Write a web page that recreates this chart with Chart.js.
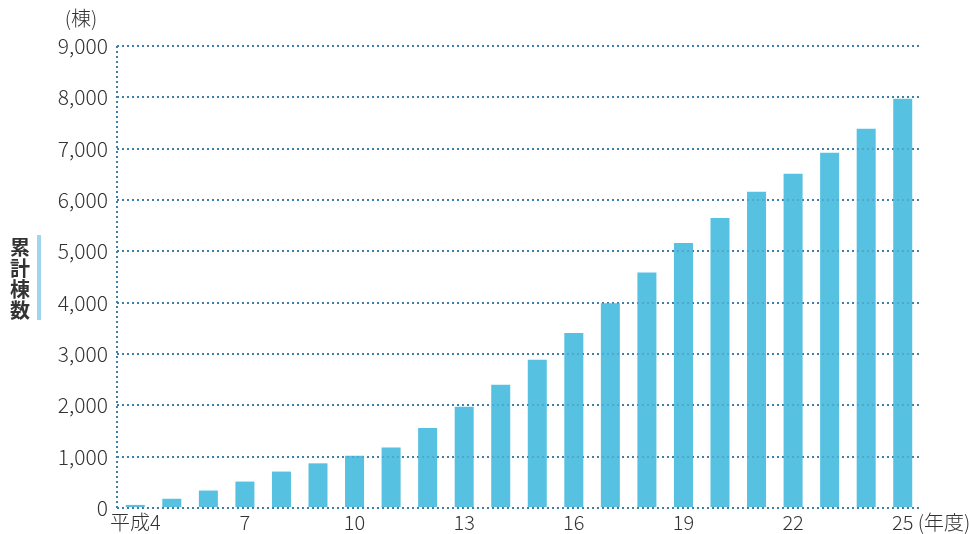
<!DOCTYPE html>
<html>
<head>
<meta charset="utf-8">
<script src="https://cdn.jsdelivr.net/npm/chart.js@4"></script>
<style>
    html, body {margin: 0; padding: 0; background: #ffffff;}
    #wrap {width: 969px; height: 534px;}
</style>
</head>
<body>
<div id="wrap"><canvas id="chart" width="969" height="534"></canvas></div>
<script>
// Fiscal years (Heisei 4 .. 25)
var years = ["平成4", "5", "6", "7", "8", "9", "10", "11", "12", "13", "14",
             "15", "16", "17", "18", "19", "20", "21", "22", "23", "24", "25"];

// Cumulative number of buildings
var totals = [60, 180, 340, 515, 710, 870, 1020, 1180, 1560, 1970, 2400,
              2890, 3410, 3990, 4590, 5160, 5650, 6160, 6510, 6920, 7390, 7970];

var y_ticks = [0, 1000, 2000, 3000, 4000, 5000, 6000, 7000, 8000, 9000];

var y_title = ["累", "計", "棟", "数"];
var y_unit = "(棟)";
var x_unit = "(年度)";

var bar_color = "#56c1e1";
var grid_color = "#3f7fa6";
var text_color = "#333333";
var font_family = "\"Noto Sans CJK JP\", \"Noto Sans\", sans-serif";

// Dotted left axis, drawn under the bars
var axis_plugin = {
    id: "axis_line",
    beforeDatasetsDraw: function (chart) {
        var ctx = chart.ctx;
        var y_scale = chart.scales.y;
        var area = chart.chartArea;
        var px = area.left;

        ctx.save();
        ctx.strokeStyle = grid_color;
        ctx.lineWidth = 2;
        ctx.setLineDash([2, 3]);
        ctx.beginPath();
        ctx.moveTo(px, y_scale.getPixelForValue(9000));
        ctx.lineTo(px, y_scale.getPixelForValue(0));
        ctx.stroke();
        ctx.restore();
    }
};

// Draws the unit labels, the vertical title and a faint grid over the bars
var extras_plugin = {
    id: "extras",
    afterDatasetsDraw: function (chart) {
        var ctx = chart.ctx;
        var y_scale = chart.scales.y;
        var x_scale = chart.scales.x;
        var area = chart.chartArea;

        ctx.save();
        ctx.strokeStyle = "rgba(63, 127, 166, 0.35)";
        ctx.lineWidth = 2;
        ctx.setLineDash([2, 3]);

        for (var i = 1; i < y_ticks.length; i++) {
            var py = Math.round(y_scale.getPixelForValue(y_ticks[i]));

            ctx.beginPath();
            ctx.moveTo(area.left, py);
            ctx.lineTo(area.right - 3, py);
            ctx.stroke();
        }

        // Baseline stays dark over the bars
        var base = Math.round(y_scale.getPixelForValue(0));

        ctx.strokeStyle = grid_color;
        ctx.beginPath();
        ctx.moveTo(area.left, base);
        ctx.lineTo(area.right - 3, base);
        ctx.stroke();
        ctx.restore();

        ctx.save();
        ctx.fillStyle = text_color;
        ctx.textBaseline = "middle";

        ctx.font = "300 20px " + font_family;
        ctx.textAlign = "center";
        ctx.fillText(y_unit, 81, 18);

        ctx.font = "300 20px " + font_family;
        ctx.textAlign = "left";
        var last_x = x_scale.getPixelForValue(years.length - 1);
        ctx.fillText(x_unit, last_x + 15, 522);

        ctx.font = "bold 20px " + font_family;
        ctx.textAlign = "center";

        for (var j = 0; j < y_title.length; j++) {
            ctx.fillText(y_title[j], 20, 247 + j * 21);
        }

        ctx.fillStyle = "#9fd6ee";
        ctx.fillRect(37, 235, 4, 85);
        ctx.restore();
    }
};

var config = {
    type: "bar",
    data: {
        labels: years,
        datasets: [{
            label: "累計棟数",
            data: totals,
            backgroundColor: bar_color,
            borderWidth: 0,
            barPercentage: 0.52,
            categoryPercentage: 1.0
        }]
    },
    options: {
        responsive: false,
        animation: false,
        maintainAspectRatio: false,
        layout: {
            padding: {left: 0, right: 48, top: 46, bottom: 0}
        },
        plugins: {
            legend: {display: false},
            tooltip: {enabled: false},
            title: {display: false}
        },
        scales: {
            x: {
                grid: {display: false, drawTicks: false},
                border: {display: false},
                ticks: {
                    autoSkip: false,
                    maxRotation: 0,
                    padding: 2,
                    color: text_color,
                    font: {family: font_family, size: 20, weight: "300"},
                    callback: function (value, index) {
                        return index % 3 === 0 ? years[index] : "";
                    }
                },
                afterFit: function (scale) {
                    scale.height = 26;
                }
            },
            y: {
                min: 0,
                max: 9000,
                afterBuildTicks: function (scale) {
                    scale.ticks = y_ticks.map(function (v) {
                        return {value: v};
                    });
                },
                grid: {
                    color: grid_color,
                    lineWidth: 2,
                    drawTicks: false
                },
                border: {
                    display: false,
                    dash: [2, 3]
                },
                ticks: {
                    padding: 9,
                    color: text_color,
                    font: {family: font_family, size: 21, weight: "300"},
                    callback: function (value) {
                        return value.toLocaleString("en-US");
                    }
                },
                afterFit: function (scale) {
                    scale.width = 117;
                }
            }
        }
    },
    plugins: [axis_plugin, extras_plugin]
};

var chart = new Chart(document.getElementById("chart").getContext("2d"), config);
</script>
</body>
</html>
